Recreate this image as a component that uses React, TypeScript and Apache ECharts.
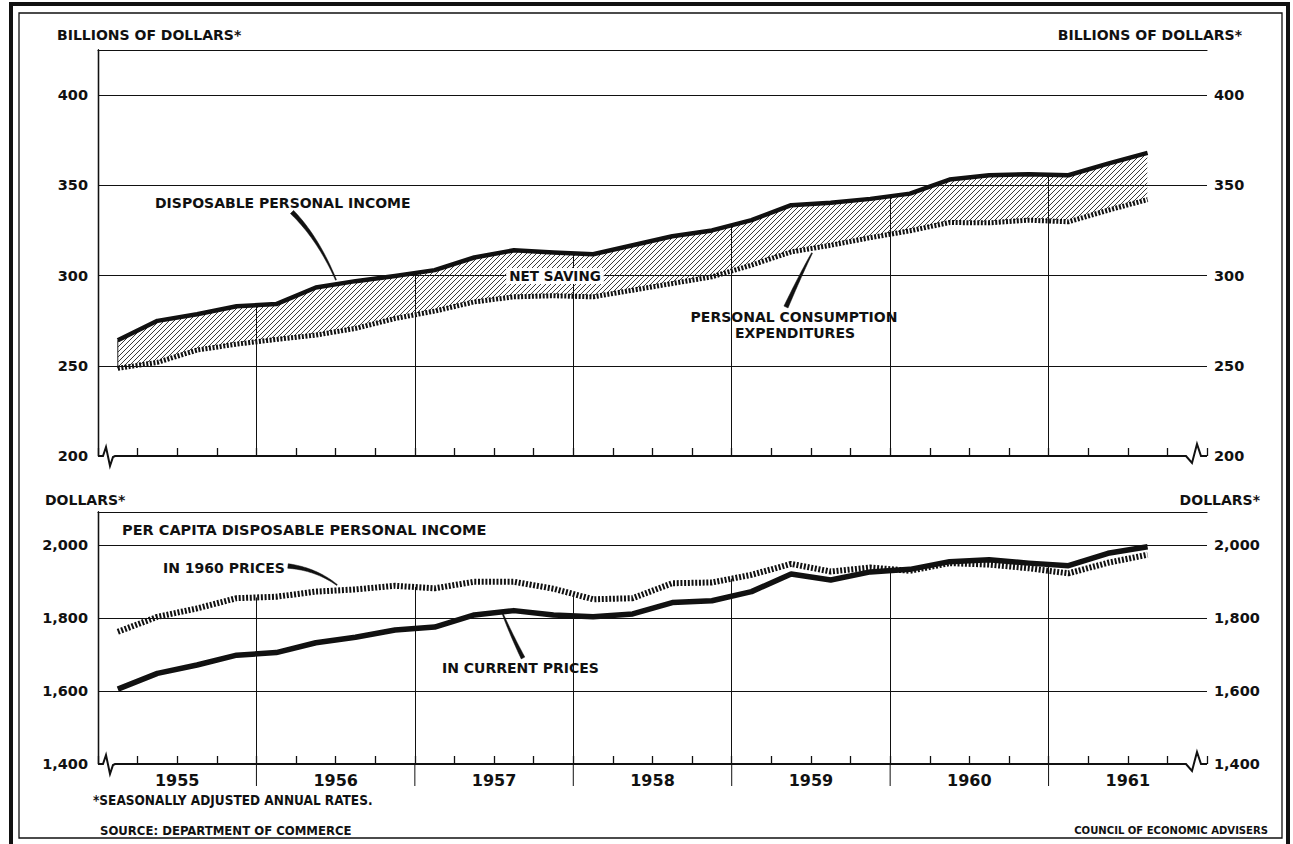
import React, { useEffect, useRef } from "react";
import * as echarts from "echarts";

// ---------- data (quarterly, 1955 Q1 .. 1961 Q3, seasonally adjusted annual rates) ----------
const YEARS = ["1955", "1956", "1957", "1958", "1959", "1960", "1961"];
const DPI = [264.2, 274.9, 278.6, 283.0, 284.2, 293.4, 296.9, 299.8, 303.0, 310.0, 314.0, 312.8, 311.8, 316.8, 321.8, 325.0, 330.7, 339.0, 340.3, 342.5, 345.4, 353.2, 355.6, 356.1, 355.6, 362.0, 368.0];
const PCE = [248.6, 251.9, 258.7, 262.0, 264.6, 267.0, 270.7, 276.2, 280.3, 285.4, 288.2, 288.8, 288.2, 291.9, 295.6, 299.3, 305.8, 313.1, 316.8, 321.0, 324.8, 329.4, 329.2, 330.7, 329.8, 336.2, 342.1];
const PC_CURRENT = [1605, 1648, 1671, 1698, 1705, 1732, 1747, 1767, 1775, 1808, 1820, 1808, 1803, 1811, 1842, 1847, 1872, 1920, 1904, 1926, 1933, 1954, 1959, 1950, 1943, 1977, 1995];
const PC_1960 = [1762, 1803, 1826, 1854, 1858, 1872, 1878, 1888, 1881, 1899, 1899, 1880, 1851, 1854, 1895, 1897, 1918, 1948, 1927, 1938, 1929, 1950, 1946, 1936, 1922, 1951, 1973];
const TOP_RANGE = [200, 425];
const TOP_STEP = 50;
const BOT_RANGE = [1400, 2090];
const BOT_STEP = 200;
const QUARTERS = 28;

const FONT = "'DejaVu Sans', 'Liberation Sans', sans-serif";
const COND = "'DejaVu Sans Condensed', 'Liberation Sans Narrow', 'DejaVu Sans', sans-serif";
const INK = "#111";
const HATCH_GAP = 5;

function taper(x0: number, y0: number, cx: number, cy: number, x1: number, y1: number, w0: number, w1: number) {
  const n = 24;
  const left: number[][] = [];
  const right: number[][] = [];
  for (let i = 0; i <= n; i++) {
    const t = i / n;
    const x = (1 - t) * (1 - t) * x0 + 2 * (1 - t) * t * cx + t * t * x1;
    const y = (1 - t) * (1 - t) * y0 + 2 * (1 - t) * t * cy + t * t * y1;
    const dx = 2 * (1 - t) * (cx - x0) + 2 * t * (x1 - cx);
    const dy = 2 * (1 - t) * (cy - y0) + 2 * t * (y1 - cy);
    const len = Math.hypot(dx, dy) || 1;
    const w = (w0 + (w1 - w0) * t) / 2;
    const nx = -dy / len;
    const ny = dx / len;
    left.push([x + nx * w, y + ny * w]);
    right.push([x - nx * w, y - ny * w]);
  }
  return {
    type: "polygon",
    z: 100,
    shape: { points: left.concat(right.reverse()) },
    style: { fill: INK, stroke: INK, lineWidth: 0.5 },
    silent: true,
  };
}

function txt(text: string, x: number, y: number, size: number, align = "left", family = FONT, extra: any = {}) {
  return {
    type: "text",
    z: 101,
    x,
    y,
    silent: true,
    style: {
      text,
      fill: INK,
      fontSize: size,
      fontWeight: "bold",
      fontFamily: family,
      align,
      verticalAlign: "middle",
      ...extra,
    },
  };
}

const pts = (arr: number[]) => arr.map((v, i) => [i + 0.5, v]);
const BOUNDS = [4, 8, 12, 16, 20, 24];

// piecewise-linear interpolation of a pixel polyline at x
function interp(poly: number[][], x: number) {
  for (let i = 0; i < poly.length - 1; i++) {
    const a = poly[i];
    const b = poly[i + 1];
    if (x >= a[0] && x <= b[0]) {
      const t = (x - a[0]) / (b[0] - a[0] || 1);
      return a[1] + (b[1] - a[1]) * t;
    }
  }
  return poly[poly.length - 1][1];
}

// hatch renderer: diagonal "/" lines clipped to the band between two series
function hatchRenderItem(params: any, api: any) {
  if (params.dataIndex !== 0) return null;
  const up = DPI.map((v, i) => api.coord([i + 0.5, v]));
  const lo = PCE.map((v, i) => api.coord([i + 0.5, v]));
  const xa = up[0][0];
  const xb = up[up.length - 1][0];
  const step = 0.5;
  const xs: number[] = [];
  const yu: number[] = [];
  const yl: number[] = [];
  for (let x = xa; x <= xb + 1e-6; x += step) {
    xs.push(x);
    yu.push(interp(up, x));
    yl.push(interp(lo, x));
  }
  const children: any[] = [];
  const cMin = xa + Math.min(...yu);
  const cMax = xb + Math.max(...yl);
  const start = Math.floor(cMin / HATCH_GAP) * HATCH_GAP;
  for (let c = start; c <= cMax; c += HATCH_GAP) {
    let first = -1;
    let last = -1;
    for (let k = 0; k < xs.length; k++) {
      const y = c - xs[k];
      if (y >= yu[k] + 1 && y <= yl[k] - 1) {
        if (first < 0) first = k;
        last = k;
      }
    }
    if (first >= 0 && last > first) {
      children.push({
        type: "line",
        shape: { x1: xs[first], y1: c - xs[first], x2: xs[last], y2: c - xs[last] },
        style: { stroke: "#222", lineWidth: 0.9 },
      });
    } else if (first >= 0 && xs[first] === xa) {
      // left edge vertical cut (single sample)
    }
  }
  // left & right closing edges of the band
  children.push({
    type: "line",
    shape: { x1: xa, y1: up[0][1], x2: xa, y2: lo[0][1] },
    style: { stroke: "#222", lineWidth: 1 },
  });
  return { type: "group", children };
}

export default function App() {
  const ref = useRef<HTMLDivElement>(null);

  useEffect(() => {
    if (!ref.current) return;
    const chart = echarts.init(ref.current, null, { renderer: "svg" });

    const qAxis = (gridIndex: number, labels: boolean) => ({
      type: "value",
      gridIndex,
      position: "bottom",
      min: 0,
      max: QUARTERS,
      interval: 1,
      axisLine: { show: false },
      axisTick: { show: true, inside: true, length: 8, lineStyle: { color: INK, width: 1.3 } },
      splitLine: { show: false },
      axisLabel: labels
        ? {
            show: true,
            margin: 8,
            color: INK,
            fontSize: 16,
            fontWeight: "bold",
            fontFamily: FONT,
            formatter: (v: number) => (v % 4 === 2 ? YEARS[(v - 2) / 4] : ""),
          }
        : { show: false },
    });
    const topLine = (gridIndex: number) => ({
      type: "value",
      gridIndex,
      position: "top",
      min: 0,
      max: QUARTERS,
      axisLine: { show: true, lineStyle: { color: INK, width: 1.2 } },
      axisTick: { show: false },
      axisLabel: { show: false },
      splitLine: { show: false },
    });
    const yAx = (gridIndex: number, range: number[], step: number, pos: string, fmt: (v: number) => string) => ({
      type: "value",
      gridIndex,
      position: pos,
      min: range[0],
      max: range[1],
      interval: step,
      axisLine: { show: true, lineStyle: { color: INK, width: 1.3 } },
      axisTick: { show: false },
      axisLabel: {
        show: true,
        showMaxLabel: false,
        margin: pos === "left" ? 10 : 7,
        color: INK,
        fontSize: 14.5,
        fontWeight: "bold",
        fontFamily: FONT,
        formatter: fmt,
      },
      splitLine:
        pos === "left"
          ? { show: true, showMinLine: false, showMaxLine: false, lineStyle: { color: INK, width: 1 } }
          : { show: false },
    });
    const comma = (v: number) => v.toLocaleString("en-US");
    const plain = (v: number) => String(v);

    const markLines = (top: number[], top2: number[] | null, ymin: number) => ({
      silent: true,
      symbol: ["none", "none"],
      label: { show: false },
      emphasis: { disabled: true },
      lineStyle: { color: INK, width: 1, type: "solid" },
      data: BOUNDS.map((b) => {
        let y = (top[b - 1] + top[b]) / 2;
        if (top2) y = Math.max(y, (top2[b - 1] + top2[b]) / 2);
        return [{ coord: [b, ymin] }, { coord: [b, y] }];
      }),
    });

    const option: any = {
      animation: false,
      backgroundColor: "#fff",
      grid: [
        { left: 98, right: 86, top: 50, height: 406 },
        { left: 98, right: 86, top: 512, height: 252 },
      ],
      xAxis: [qAxis(0, false), topLine(0), qAxis(1, true), topLine(1)],
      yAxis: [
        yAx(0, TOP_RANGE, TOP_STEP, "left", plain),
        yAx(0, TOP_RANGE, TOP_STEP, "right", plain),
        yAx(1, BOT_RANGE, BOT_STEP, "left", comma),
        yAx(1, BOT_RANGE, BOT_STEP, "right", comma),
      ],
      series: [
        {
          name: "Net saving",
          type: "custom",
          coordinateSystem: "cartesian2d",
          xAxisIndex: 0,
          yAxisIndex: 0,
          data: [[DPI.length / 2, (DPI[0] + PCE[0]) / 2]],
          renderItem: hatchRenderItem,
          silent: true,
          clip: false,
          z: 2,
        },
        {
          name: "Personal consumption expenditures",
          type: "line",
          xAxisIndex: 0,
          yAxisIndex: 0,
          data: pts(PCE),
          symbol: "none",
          silent: true,
          lineStyle: { color: INK, width: 5, type: [2, 1.6], cap: "butt" },
          z: 3,
        },
        {
          name: "Disposable personal income",
          type: "line",
          xAxisIndex: 0,
          yAxisIndex: 0,
          data: pts(DPI),
          symbol: "none",
          silent: true,
          lineStyle: { color: INK, width: 4.5, join: "round" },
          markLine: markLines(DPI, null, TOP_RANGE[0]),
          z: 4,
        },
        {
          name: "In 1960 prices",
          type: "line",
          xAxisIndex: 2,
          yAxisIndex: 2,
          data: pts(PC_1960),
          symbol: "none",
          silent: true,
          lineStyle: { color: INK, width: 6, type: [2, 1.7], cap: "butt" },
          markLine: markLines(PC_1960, PC_CURRENT, BOT_RANGE[0]),
          z: 3,
        },
        {
          name: "In current prices",
          type: "line",
          xAxisIndex: 2,
          yAxisIndex: 2,
          data: pts(PC_CURRENT),
          symbol: "none",
          silent: true,
          lineStyle: { color: INK, width: 5.5, join: "round" },
          z: 4,
        },
      ],
    };
    chart.setOption(option);

    const graphics: any[] = [];
    graphics.push({
      type: "rect",
      silent: true,
      shape: { x: 11, y: 4, width: 1277, height: 842 },
      style: { fill: "none", stroke: INK, lineWidth: 4 },
    });
    graphics.push({
      type: "rect",
      silent: true,
      shape: { x: 19, y: 13, width: 1263, height: 825 },
      style: { fill: "none", stroke: INK, lineWidth: 1.3 },
    });

    const panels = [
      { g: 0, ymin: TOP_RANGE[0] },
      { g: 1, ymin: BOT_RANGE[0] },
    ];
    panels.forEach(({ g, ymin }) => {
      const [xl, y] = chart.convertToPixel({ gridIndex: g }, [0, ymin]) as number[];
      const [xr] = chart.convertToPixel({ gridIndex: g }, [QUARTERS, ymin]) as number[];
      graphics.push({
        type: "polyline",
        silent: true,
        z: 50,
        shape: {
          points: [
            [xl, y],
            [xl + 5, y],
            [xl + 8, y - 9],
            [xl + 12, y + 10],
            [xl + 15, y + 1],
            [xl + 17, y],
            [xr - 21, y],
            [xr - 15, y + 7],
            [xr - 10, y - 12],
            [xr - 6, y],
            [xr, y],
          ],
        },
        style: { fill: "none", stroke: INK, lineWidth: 2 },
      });
      if (g === 1) {
        BOUNDS.forEach((b) => {
          const [px, py] = chart.convertToPixel({ gridIndex: g }, [b, ymin]) as number[];
          graphics.push({
            type: "line",
            silent: true,
            shape: { x1: px, y1: py, x2: px, y2: py + 22 },
            style: { stroke: INK, lineWidth: 1 },
          });
        });
      }
    });

    graphics.push(txt("BILLIONS OF DOLLARS*", 57, 35, 14));
    graphics.push(txt("BILLIONS OF DOLLARS*", 1242, 35, 14, "right"));
    graphics.push(txt("DOLLARS*", 45, 500, 14));
    graphics.push(txt("DOLLARS*", 1260, 500, 14, "right"));

    graphics.push(txt("DISPOSABLE PERSONAL INCOME", 155, 203, 14));
    graphics.push(taper(292, 212, 318, 238, 336, 280, 4.5, 1));
    graphics.push(
      txt("NET SAVING", 555, 276, 13.5, "center", FONT, { backgroundColor: "#fff", padding: [1, 3] })
    );
    graphics.push(txt("PERSONAL CONSUMPTION", 794, 317, 14, "center"));
    graphics.push(txt("EXPENDITURES", 795, 333, 14, "center"));
    graphics.push(taper(786, 307, 800, 276, 812, 253, 4.5, 1));

    graphics.push(txt("PER CAPITA DISPOSABLE PERSONAL INCOME", 122, 530, 14.5));
    graphics.push(txt("IN 1960 PRICES", 163, 568, 14));
    graphics.push(taper(288, 566, 316, 569, 337, 585, 4.5, 1));
    graphics.push(txt("IN CURRENT PRICES", 442, 668, 14));
    graphics.push(taper(523, 658, 510, 632, 502, 612, 4, 1));

    graphics.push(txt("*SEASONALLY ADJUSTED ANNUAL RATES.", 93, 800, 13.5, "left", COND));
    graphics.push(txt("SOURCE: DEPARTMENT OF COMMERCE", 100, 830, 13, "left", COND));
    graphics.push(txt("COUNCIL OF ECONOMIC ADVISERS", 1268, 830, 11.2, "right", COND));

    chart.setOption({ graphic: graphics });

    return () => {
      chart.dispose();
    };
  }, []);

  return (
    <div
      ref={ref}
      style={{ position: "fixed", left: 0, top: 0, width: "1293px", height: "844px", background: "#fff" }}
    />
  );
}
